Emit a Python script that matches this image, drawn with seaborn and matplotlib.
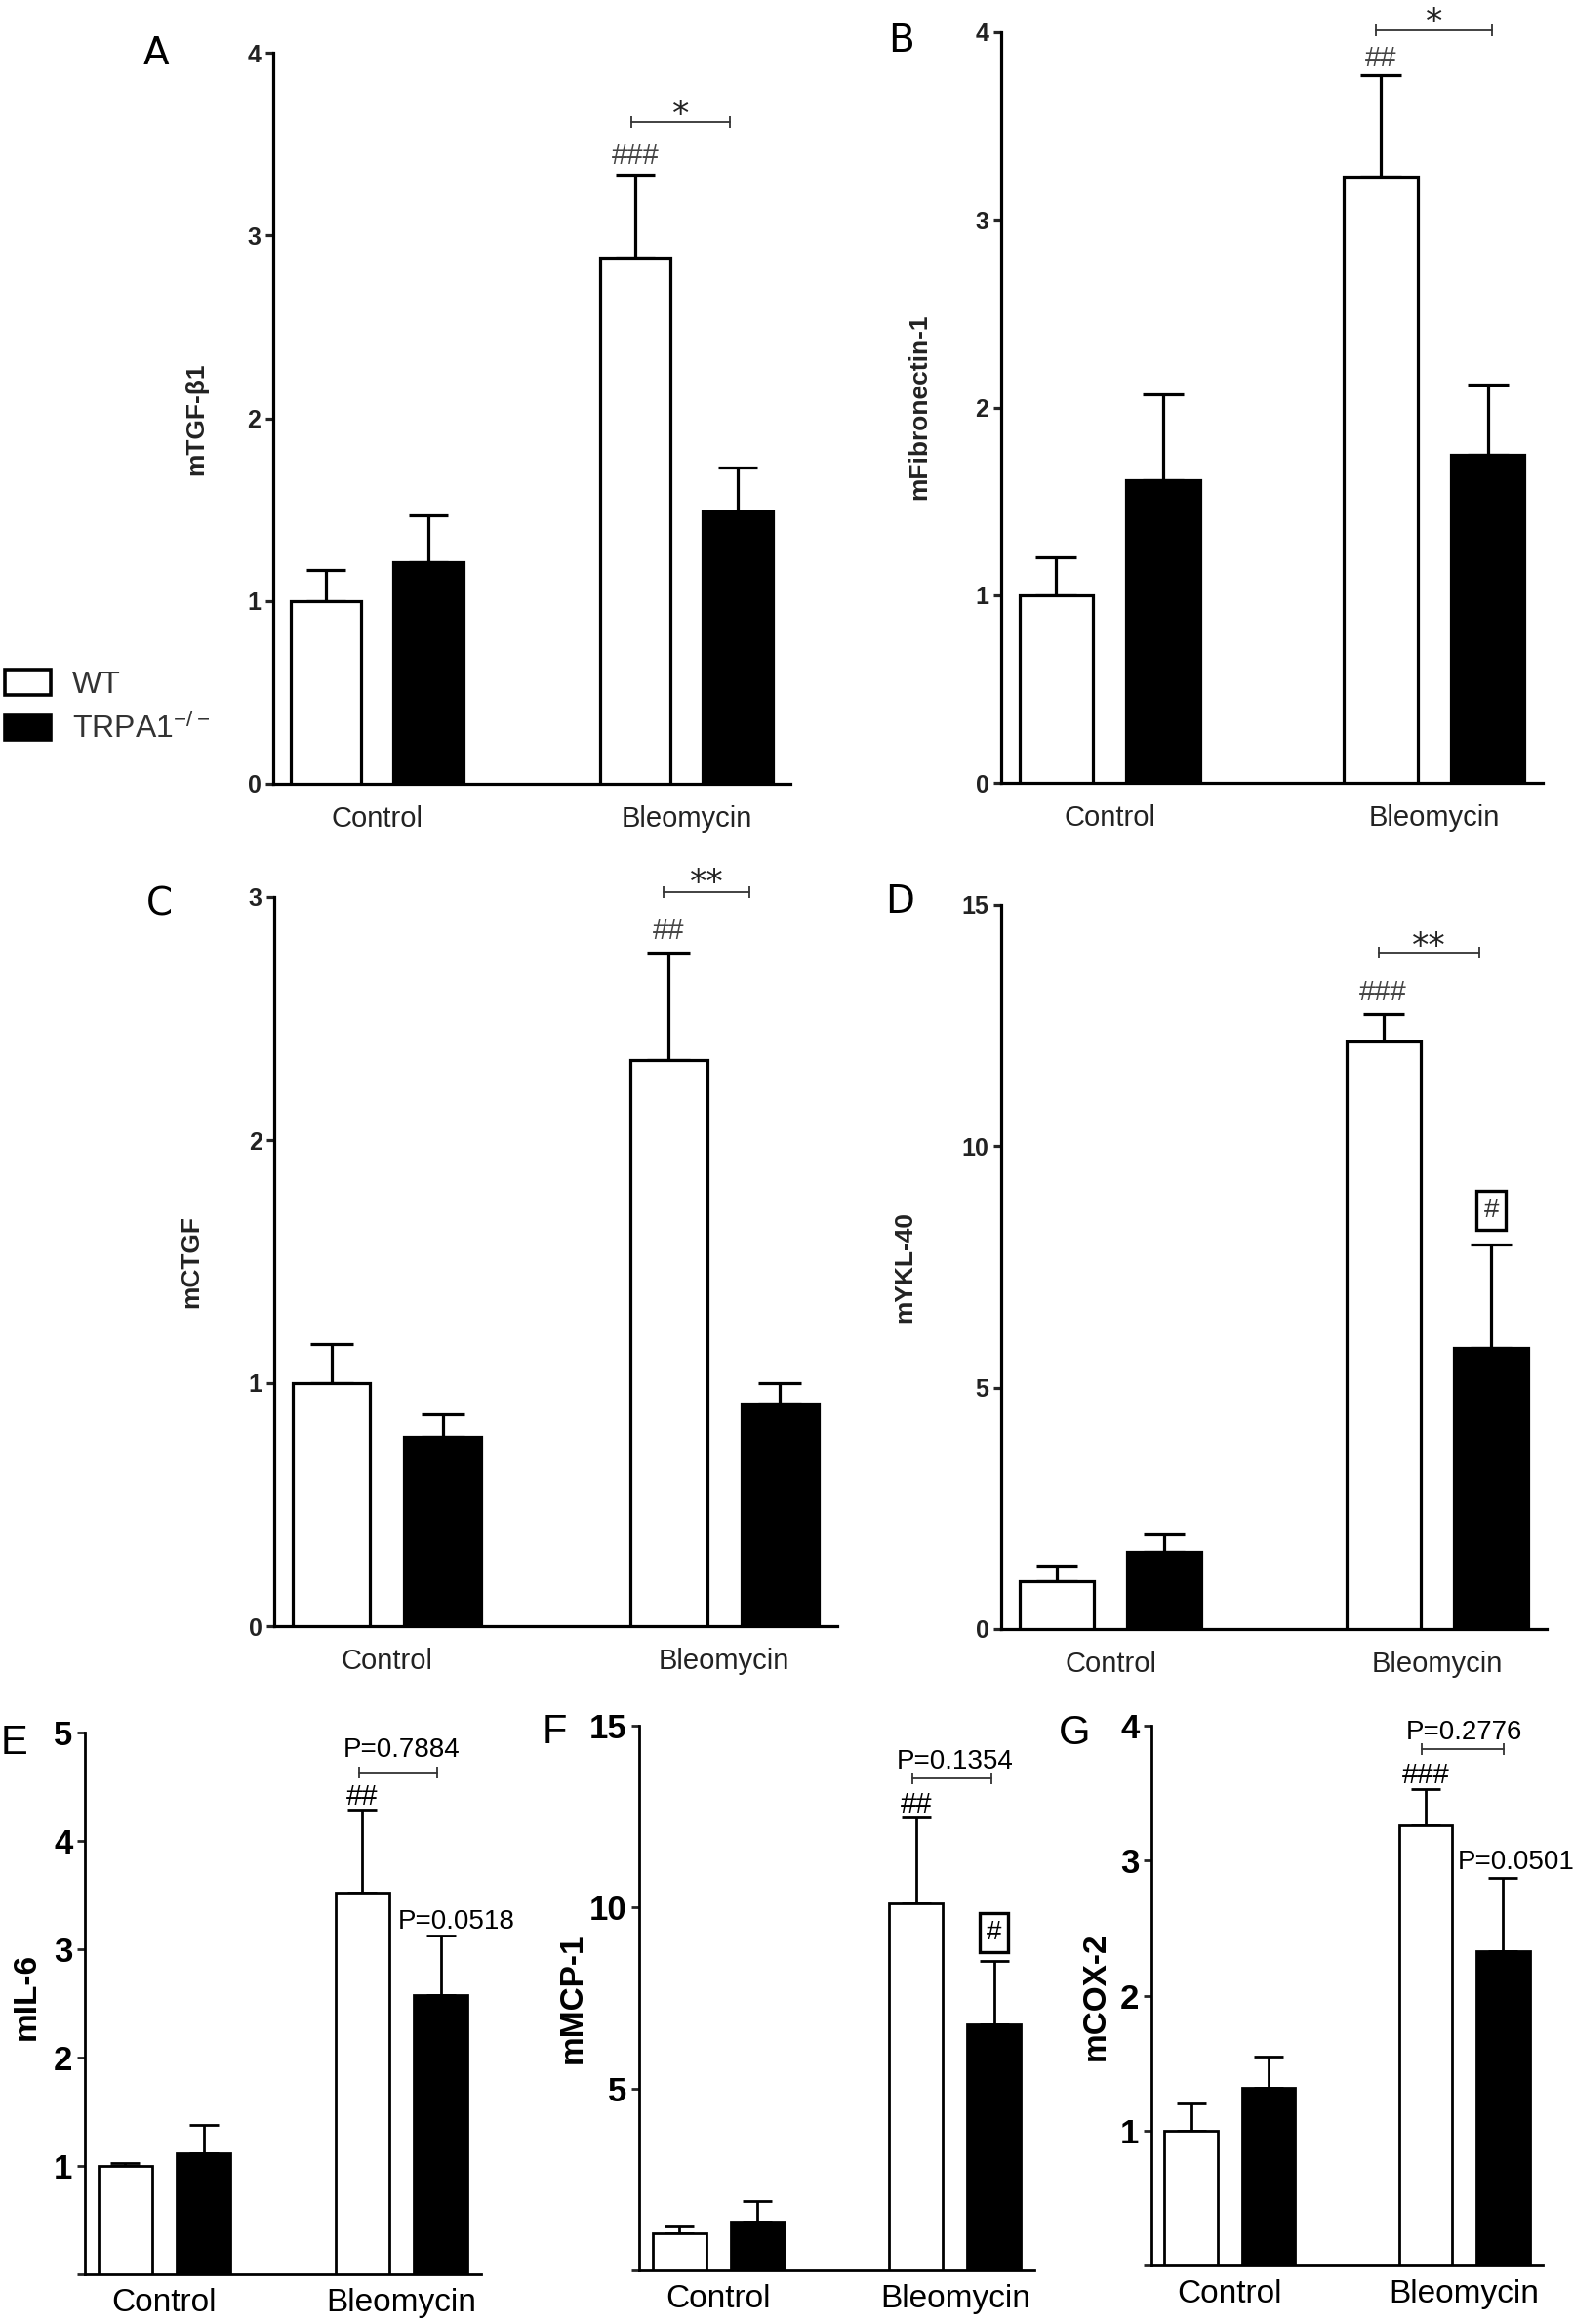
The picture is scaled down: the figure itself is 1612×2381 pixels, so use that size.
import numpy as np
import pandas as pd
import matplotlib
matplotlib.use("Agg")
import matplotlib.pyplot as plt
from matplotlib.container import BarContainer
import seaborn as sns

# ---------------- data ----------------
conditions = ["Control", "Bleomycin"]
genotypes = ["WT", "TRPA1$^{-/-}$"]

tgf_wt = [1.00, 2.88];  tgf_wt_sem = [0.17, 0.45]
tgf_ko = [1.21, 1.49];  tgf_ko_sem = [0.26, 0.24]
fn_wt = [1.00, 3.23];   fn_wt_sem = [0.20, 0.54]
fn_ko = [1.61, 1.75];   fn_ko_sem = [0.46, 0.37]
ctgf_wt = [1.00, 2.33]; ctgf_wt_sem = [0.16, 0.44]
ctgf_ko = [0.78, 0.915]; ctgf_ko_sem = [0.09, 0.085]
ykl_wt = [1.00, 12.17]; ykl_wt_sem = [0.31, 0.57]
ykl_ko = [1.59, 5.83];  ykl_ko_sem = [0.38, 2.14]
il6_wt = [1.00, 3.52];  il6_wt_sem = [0.03, 0.77]
il6_ko = [1.12, 2.58];  il6_ko_sem = [0.26, 0.55]
mcp_wt = [1.02, 10.12]; mcp_wt_sem = [0.19, 2.36]
mcp_ko = [1.35, 6.78];  mcp_ko_sem = [0.57, 1.74]
cox_wt = [1.00, 3.26];  cox_wt_sem = [0.20, 0.27]
cox_ko = [1.32, 2.33];  cox_ko_sem = [0.23, 0.54]

ylabels = ["mTGF-β1", "mFibronectin-1", "mCTGF", "mYKL-40", "mIL-6", "mMCP-1", "mCOX-2"]
panel_letters = ["A", "B", "C", "D", "E", "F", "G"]
yticks_ab = [0, 1, 2, 3, 4]
yticks_c = [0, 1, 2, 3]
yticks_d = [0, 5, 10, 15]
yticks_e = [0, 1, 2, 3, 4, 5]
yticks_f = [0, 5, 10, 15]
yticks_g = [0, 1, 2, 3, 4]

# significance annotations (text, value level)
hash_text = ["###", "##", "##", "###", "##", "##", "###"]
hash_level = [3.45, 3.875, 2.87, 13.24, 4.43, 12.89, 3.65]
bracket_level = [3.62, 4.01, 3.02, 14.0, 4.63, 13.55, 3.83]
star_text = ["*", "*", "**", "**", None, None, None]
star_level = [3.72, 4.11, 3.10, 14.35, None, None, None]
pval_top_text = [None, None, None, None, "P=0.7884", "P=0.1354", "P=0.2776"]
pval_top_level = [None, None, None, None, 4.86, 14.09, 3.97]
pval_ko_text = [None, None, None, None, "P=0.0518", None, "P=0.0501"]
pval_ko_level = [None, None, None, None, 3.28, None, 3.01]
boxed_hash_level = [None, None, None, 8.67, None, 9.3, None]

# ---------------- layout / style ----------------
W, H, DPI = 1612, 2381, 100
sns.set_style("ticks")
plt.rcParams["font.family"] = ["Liberation Sans", "DejaVu Sans"]
plt.rcParams["mathtext.fontset"] = "custom"
plt.rcParams["mathtext.rm"] = "Liberation Sans"
plt.rcParams["mathtext.default"] = "regular"

fig = plt.figure(figsize=(W / DPI, H / DPI), dpi=DPI)

def rect(l, r, top, base):
    return [l / W, 1 - base / H, (r - l) / W, (base - top) / H]

# pixel boxes: left, right, top, baseline
boxes = [(280, 810, 54, 803), (1026, 1581, 33, 802), (281, 858, 919, 1666),
         (1026, 1585, 927, 1669), (87, 493, 1775, 2330), (655, 1060, 1768, 2326),
         (1180, 1581, 1768, 2321)]
ylab_pos = [(201, 429), (942, 417), (196, 1292), (927, 1298), (27, 2045), (587, 2047), (1123, 2045)]
letter_pos = [(160, 55), (924, 42), (163, 927), (922, 924), (14, 1786), (568, 1775), (1101, 1776)]
bracket_end = [0.14, 0.18, 0.075, 0.13, 0.148, 0.153, 0.17]
pval_ko_dx = [0, 0, 0, 0, 0.23, 0, 0.22]

panels = [
    (tgf_wt, tgf_wt_sem, tgf_ko, tgf_ko_sem, yticks_ab),
    (fn_wt, fn_wt_sem, fn_ko, fn_ko_sem, yticks_ab),
    (ctgf_wt, ctgf_wt_sem, ctgf_ko, ctgf_ko_sem, yticks_c),
    (ykl_wt, ykl_wt_sem, ykl_ko, ykl_ko_sem, yticks_d),
    (il6_wt, il6_wt_sem, il6_ko, il6_ko_sem, yticks_e),
    (mcp_wt, mcp_wt_sem, mcp_ko, mcp_ko_sem, yticks_f),
    (cox_wt, cox_wt_sem, cox_ko, cox_ko_sem, yticks_g),
]

XL = (-0.335, 1.335)

for i, (wt, wts, ko, kos, yt) in enumerate(panels):
    big = i >= 4
    lw = 2.0 if big else 2.3
    txtc = "black" if big else "#222222"
    l, r, top, base = boxes[i]
    ax = fig.add_axes(rect(l, r, top, base))
    df = pd.DataFrame({
        "condition": conditions * 2,
        "genotype": [genotypes[0]] * 2 + [genotypes[1]] * 2,
        "value": list(wt) + list(ko),
    })
    sns.barplot(data=df, x="condition", y="value", hue="genotype", order=conditions,
                hue_order=genotypes, palette=["white", "black"], saturation=1,
                edgecolor="black", linewidth=lw, width=0.66, gap=0.31,
                errorbar=None, ax=ax, legend=(i == 0), zorder=3)
    ax.set_xlim(*XL)
    ax.set_ylim(yt[0], yt[-1])
    ax.set_yticks(yt)
    if big:
        ax.set_yticklabels([""] + [str(v) for v in yt[1:]])
    else:
        ax.set_yticklabels([str(v) for v in yt])
    for lab in ax.get_yticklabels():
        lab.set_fontweight("bold")
    ax.tick_params(axis="y", length=6, width=lw, direction="out", pad=3,
                   labelsize=25 if big else 18, labelcolor=txtc)
    ax.tick_params(axis="x", length=0, pad=10 if big else 16,
                   labelsize=24 if big else 21, labelcolor=txtc)
    ax.set_xlabel("")
    ax.set_ylabel(ylabels[i], fontweight="bold", fontsize=24 if big else 19,
                  color=txtc, va="center")
    lx, ly = ylab_pos[i]
    ax.yaxis.set_label_coords((lx - l) / (r - l), (base - ly) / (base - top))
    for s in ["top", "right"]:
        ax.spines[s].set_visible(False)
    for s in ["left", "bottom"]:
        ax.spines[s].set_linewidth(lw)
        ax.spines[s].set_color("black")

    # error bars (upper only), positions from the bar patches
    bar_conts = [c for c in ax.containers if isinstance(c, BarContainer)]
    sems = [wts, kos]
    px_per_unit = (r - l) / (XL[1] - XL[0])
    centers = {}
    for hi, cont in enumerate(bar_conts):
        for ci, p in enumerate(cont.patches):
            x = p.get_x() + p.get_width() / 2
            h = p.get_height()
            centers[(hi, ci)] = (x, h)
            cap_px = 0.55 * p.get_width() * px_per_unit
            ax.errorbar([x], [h], yerr=[[0], [sems[hi][ci]]], fmt="none",
                        ecolor="black", elinewidth=lw, capsize=cap_px / 2 * 72 / DPI,
                        capthick=lw, zorder=2)

    # annotations
    xw = centers[(0, 1)][0]
    xk = centers[(1, 1)][0]
    grp = (xw + xk) / 2
    hc = "black" if big else "#444444"
    ax.annotate(hash_text[i], (xw, hash_level[i]), xytext=(0, -2), textcoords="offset points",
                ha="center", va="center", fontsize=21, color=hc, annotation_clip=False)
    x0, x1 = xw - 0.015, grp + bracket_end[i]
    ax.plot([x0, x1], [bracket_level[i]] * 2, color="#333333", lw=1.3, marker="|",
            markersize=9, markeredgewidth=1.3, clip_on=False, zorder=4)
    if star_text[i]:
        ax.annotate(star_text[i], ((x0 + x1) / 2, star_level[i]), xytext=(0, -8),
                    textcoords="offset points", ha="center", va="center",
                    fontsize=25, family="DejaVu Sans", color="#222222", annotation_clip=False)
    if pval_top_text[i]:
        ax.annotate(pval_top_text[i], (grp, pval_top_level[i]), xytext=(0, -2),
                    textcoords="offset points", ha="center", va="center",
                    fontsize=20, color="black", annotation_clip=False)
    if pval_ko_text[i]:
        ax.annotate(pval_ko_text[i], (grp + pval_ko_dx[i], pval_ko_level[i]), xytext=(0, -2),
                    textcoords="offset points", ha="center", va="center",
                    fontsize=20, color="black", annotation_clip=False)
    if boxed_hash_level[i] is not None:
        ax.text(xk, boxed_hash_level[i], "#", ha="center", va="center", fontsize=20,
                color="black" if big else "#333333",
                bbox=dict(boxstyle="square,pad=0.25", fc="white", ec="black", lw=2.4))

    # panel letter
    px, py = letter_pos[i]
    fig.text(px / W, 1 - py / H, panel_letters[i], ha="center", va="center",
             fontsize=30 if big else 28,
             family=["Liberation Sans"] if big else ["DejaVu Sans"], color="black")

    if i == 0:
        leg = ax.get_legend()
        handles = leg.legend_handles
        labels = [t.get_text() for t in leg.get_texts()]
        leg.remove()
        for hnd in handles:
            hnd.set_edgecolor("black")
            hnd.set_linewidth(2.6)
        fig.legend(handles, labels, loc="upper left",
                   bbox_to_anchor=(5 / W, 1 - 686 / H), frameon=False,
                   fontsize=23, handlelength=1.47, handleheight=0.88,
                   handletextpad=0.7, labelspacing=0.45, borderpad=0,
                   borderaxespad=0, labelcolor="#333333")

fig.savefig("out.png", dpi=DPI)
